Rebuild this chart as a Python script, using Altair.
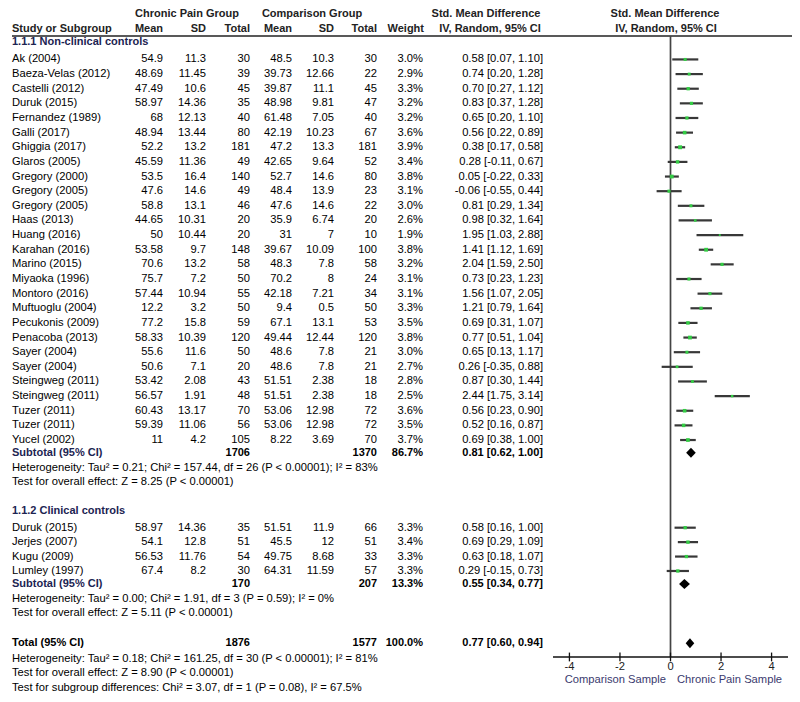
import altair as alt
import pandas as pd

# ---------------- data ----------------
studies1 = ["Ak (2004)", "Baeza-Velas (2012)", "Castelli (2012)", "Duruk (2015)", "Fernandez (1989)",
            "Galli (2017)", "Ghiggia (2017)", "Glaros (2005)", "Gregory (2000)", "Gregory (2005)",
            "Gregory (2005)", "Haas (2013)", "Huang (2016)", "Karahan (2016)", "Marino (2015)",
            "Miyaoka (1996)", "Montoro (2016)", "Muftuoglu (2004)", "Pecukonis (2009)", "Penacoba (2013)",
            "Sayer (2004)", "Sayer (2004)", "Steingweg (2011)", "Steingweg (2011)", "Tuzer (2011)",
            "Tuzer (2011)", "Yucel (2002)"]
cp_mean1 = [54.9, 48.69, 47.49, 58.97, 68, 48.94, 52.2, 45.59, 53.5, 47.6, 58.8, 44.65, 50, 53.58, 70.6,
            75.7, 57.44, 12.2, 77.2, 58.33, 55.6, 50.6, 53.42, 56.57, 60.43, 59.39, 11]
cp_sd1 = [11.3, 11.45, 10.6, 14.36, 12.13, 13.44, 13.2, 11.36, 16.4, 14.6, 13.1, 10.31, 10.44, 9.7, 13.2,
          7.2, 10.94, 3.2, 15.8, 10.39, 11.6, 7.1, 2.08, 1.91, 13.17, 11.06, 4.2]
cp_n1 = [30, 39, 45, 35, 40, 80, 181, 49, 140, 49, 46, 20, 20, 148, 58, 50, 55, 50, 59, 120, 50, 20, 43,
         48, 70, 56, 105]
cm_mean1 = [48.5, 39.73, 39.87, 48.98, 61.48, 42.19, 47.2, 42.65, 52.7, 48.4, 47.6, 35.9, 31, 39.67, 48.3,
            70.2, 42.18, 9.4, 67.1, 49.44, 48.6, 48.6, 51.51, 51.51, 53.06, 53.06, 8.22]
cm_sd1 = [10.3, 12.66, 11.1, 9.81, 7.05, 10.23, 13.3, 9.64, 14.6, 13.9, 14.6, 6.74, 7, 10.09, 7.8, 8,
          7.21, 0.5, 13.1, 12.44, 7.8, 7.8, 2.38, 2.38, 12.98, 12.98, 3.69]
cm_n1 = [30, 22, 45, 47, 40, 67, 181, 52, 80, 23, 22, 20, 10, 100, 58, 24, 34, 50, 53, 120, 21, 21, 18,
         18, 72, 72, 70]
weight1 = [3.0, 2.9, 3.3, 3.2, 3.2, 3.6, 3.9, 3.4, 3.8, 3.1, 3.0, 2.6, 1.9, 3.8, 3.2, 3.1, 3.1, 3.3, 3.5,
           3.8, 3.0, 2.7, 2.8, 2.5, 3.6, 3.5, 3.7]
smd1 = [0.58, 0.74, 0.70, 0.83, 0.65, 0.56, 0.38, 0.28, 0.05, -0.06, 0.81, 0.98, 1.95, 1.41, 2.04, 0.73,
        1.56, 1.21, 0.69, 0.77, 0.65, 0.26, 0.87, 2.44, 0.56, 0.52, 0.69]
lo1 = [0.07, 0.20, 0.27, 0.37, 0.20, 0.22, 0.17, -0.11, -0.22, -0.55, 0.29, 0.32, 1.03, 1.12, 1.59, 0.23,
       1.07, 0.79, 0.31, 0.51, 0.13, -0.35, 0.30, 1.75, 0.23, 0.16, 0.38]
hi1 = [1.10, 1.28, 1.12, 1.28, 1.10, 0.89, 0.58, 0.67, 0.33, 0.44, 1.34, 1.64, 2.88, 1.69, 2.50, 1.23,
       2.05, 1.64, 1.07, 1.04, 1.17, 0.88, 1.44, 3.14, 0.90, 0.87, 1.00]

studies2 = ["Duruk (2015)", "Jerjes (2007)", "Kugu (2009)", "Lumley (1997)"]
cp_mean2 = [58.97, 54.1, 56.53, 67.4]
cp_sd2 = [14.36, 12.8, 11.76, 8.2]
cp_n2 = [35, 51, 54, 30]
cm_mean2 = [51.51, 45.5, 49.75, 64.31]
cm_sd2 = [11.9, 12, 8.68, 11.59]
cm_n2 = [66, 51, 33, 57]
weight2 = [3.3, 3.4, 3.3, 3.3]
smd2 = [0.58, 0.69, 0.63, 0.29]
lo2 = [0.16, 0.29, 0.18, -0.15]
hi2 = [1.00, 1.09, 1.07, 0.73]

# subtotal / total: [n chronic, n comparison, weight, smd, lo, hi]
subtotal1 = [1706, 1370, 86.7, 0.81, 0.62, 1.00]
subtotal2 = [170, 207, 13.3, 0.55, 0.34, 0.77]
total_all = [1876, 1577, 100.0, 0.77, 0.60, 0.94]

section1 = "1.1.1 Non-clinical controls"
section2 = "1.1.2 Clinical controls"
het1 = "Heterogeneity: Tau\u00b2 = 0.21; Chi\u00b2 = 157.44, df = 26 (P < 0.00001); I\u00b2 = 83%"
test1 = "Test for overall effect: Z = 8.25 (P < 0.00001)"
het2 = "Heterogeneity: Tau\u00b2 = 0.00; Chi\u00b2 = 1.91, df = 3 (P = 0.59); I\u00b2 = 0%"
test2 = "Test for overall effect: Z = 5.11 (P < 0.00001)"
het_t = "Heterogeneity: Tau\u00b2 = 0.18; Chi\u00b2 = 161.25, df = 30 (P < 0.00001); I\u00b2 = 81%"
test_t = "Test for overall effect: Z = 8.90 (P < 0.00001)"
test_sub = "Test for subgroup differences: Chi\u00b2 = 3.07, df = 1 (P = 0.08), I\u00b2 = 67.5%"

axis_ticks = [-4, -2, 0, 2, 4]
axis_left_label = "Comparison Sample"
axis_right_label = "Chronic Pain Sample"

# ---------------- layout (reference-pixel row positions) ----------------
FONT = "Liberation Sans"
COLX = dict(name=12, m1=163, s1=206, n1=250, m2=292, s2=334, n2=377, w=423, ci=543)
y_study1 = [52.5 + i * 14.98 for i in range(len(studies1))]
y_sub1, y_het1, y_test1 = 455, 470.7, 485
y_sec1, y_sec2 = 35, 515
y_study2 = [531.7 + i * 14.77 for i in range(len(studies2))]
y_sub2, y_het2, y_test2 = 589.3, 604.3, 619.3
y_tot, y_het_t, y_test_t, y_test_sub = 650, 666, 680.7, 695.7
y_axis, y_ticklab, y_axtitle = 664, 674, 688
y_rule = 28.5
NAVY = "#1c2452"

def fmt(v):
    return f"{v:g}"

texts = []

def add(text, x, y, align="left", bold=False, color="#000000"):
    texts.append(dict(text=text, tx=x, y=y, align=align, bold=bold, color=color))

# header
HC = "#222222"
add("Chronic Pain Group", 187, 6, "center", True, HC)
add("Comparison Group", 312, 6, "center", True, HC)
add("Std. Mean Difference", 486, 6, "center", True, HC)
add("Std. Mean Difference", 665, 6, "center", True, HC)
add("Study or Subgroup", 12, 21, "left", True, HC)
for col, lab in [("m1", "Mean"), ("s1", "SD"), ("n1", "Total"), ("m2", "Mean"), ("s2", "SD"), ("n2", "Total")]:
    add(lab, COLX[col], 21, "right", True, HC)
add("Weight", 424, 21, "right", True, HC)
add("IV, Random, 95% CI", 490, 21, "center", True, HC)
add("IV, Random, 95% CI", 666, 21, "center", True, HC)

forest_rows = []

def add_studies(names, m1, s1, n1, m2, s2, n2, w, smd, lo, hi, ys):
    for i, nm in enumerate(names):
        y = ys[i]
        add(nm, COLX["name"], y)
        add(fmt(m1[i]), COLX["m1"], y, "right")
        add(fmt(s1[i]), COLX["s1"], y, "right")
        add(str(n1[i]), COLX["n1"], y, "right")
        add(fmt(m2[i]), COLX["m2"], y, "right")
        add(fmt(s2[i]), COLX["s2"], y, "right")
        add(str(n2[i]), COLX["n2"], y, "right")
        add(f"{w[i]:.1f}%", COLX["w"], y, "right")
        add(f"{smd[i]:.2f} [{lo[i]:.2f}, {hi[i]:.2f}]", COLX["ci"], y, "right")
        forest_rows.append(dict(smd=smd[i], lo=lo[i], hi=hi[i], w=w[i], y=y))

diamonds = []

def add_summary(label, vals, y, gid, label_color):
    add(label, COLX["name"], y, "left", True, label_color)
    add(str(vals[0]), COLX["n1"], y, "right", True)
    add(str(vals[1]), COLX["n2"], y, "right", True)
    add(f"{vals[2]:.1f}%", COLX["w"], y, "right", True)
    add(f"{vals[3]:.2f} [{vals[4]:.2f}, {vals[5]:.2f}]", COLX["ci"], y, "right", True)
    h = 5.2
    diamonds.extend([
        dict(g=gid, dx=vals[4], ya=y, yb=y),
        dict(g=gid, dx=vals[3], ya=y - h, yb=y + h),
        dict(g=gid, dx=vals[5], ya=y, yb=y),
    ])

add(section1, 12, y_sec1, "left", True, NAVY)
add_studies(studies1, cp_mean1, cp_sd1, cp_n1, cm_mean1, cm_sd1, cm_n1, weight1, smd1, lo1, hi1, y_study1)
add_summary("Subtotal (95% CI)", subtotal1, y_sub1, "s1", NAVY)
add(het1, 12, y_het1)
add(test1, 12, y_test1)
add(section2, 12, y_sec2, "left", True, NAVY)
add_studies(studies2, cp_mean2, cp_sd2, cp_n2, cm_mean2, cm_sd2, cm_n2, weight2, smd2, lo2, hi2, y_study2)
add_summary("Subtotal (95% CI)", subtotal2, y_sub2, "s2", NAVY)
add(het2, 12, y_het2)
add(test2, 12, y_test2)
add_summary("Total (95% CI)", total_all, y_tot, "t", "#000000")
add(het_t, 12, y_het_t)
add(test_t, 12, y_test_t)
add(test_sub, 12, y_test_sub)
add(axis_left_label, 666, y_axtitle, "right", False, "#3a3a6e")
add(axis_right_label, 677, y_axtitle, "left", False, "#3a3a6e")

df_text = pd.DataFrame(texts)
df_forest = pd.DataFrame(forest_rows)
df_diam = pd.DataFrame(diamonds)

# ---------------- scales ----------------
W, H = 784, 686
yscale = alt.Scale(domain=[0, 702], range=[0.14, 686.1], nice=False, zero=False)
pxscale = alt.Scale(domain=[8, 792], range=[0, 784], nice=False, zero=False)
xscale = alt.Scale(domain=[-4.65, 4.65], range=[545, 780], nice=False, zero=False)
Y = lambda f: alt.Y(f, scale=yscale, axis=None)

layers = []

# header rule
layers.append(
    alt.Chart(pd.DataFrame([dict(a=12, b=798, y=y_rule)]))
    .mark_rule(color="#222222", strokeWidth=1.6)
    .encode(x=alt.X("a:Q", scale=pxscale, axis=None), x2="b:Q", y=Y("y:Q"))
)

# zero line
layers.append(
    alt.Chart(pd.DataFrame([dict(v=0, y1=y_rule, y2=y_axis)]))
    .mark_rule(color="#444444", strokeWidth=1.7)
    .encode(x=alt.X("v:Q", scale=xscale, axis=None), y=Y("y1:Q"), y2="y2:Q")
)

# axis line and ticks
layers.append(
    alt.Chart(pd.DataFrame([dict(a=-4.65, b=4.65, y=y_axis)]))
    .mark_rule(color="#111111", strokeWidth=1.6)
    .encode(x=alt.X("a:Q", scale=xscale, axis=None), x2="b:Q", y=Y("y:Q"))
)
df_ticks = pd.DataFrame(dict(t=axis_ticks, lab=[str(t) for t in axis_ticks],
                             y1=[y_axis - 4.5] * len(axis_ticks), y2=[y_axis + 4.5] * len(axis_ticks),
                             yl=[y_ticklab] * len(axis_ticks)))
layers.append(
    alt.Chart(df_ticks).mark_rule(color="#111111", strokeWidth=1.3)
    .encode(x=alt.X("t:Q", scale=xscale, axis=None), y=Y("y1:Q"), y2="y2:Q")
)
layers.append(
    alt.Chart(df_ticks).mark_text(font=FONT, fontSize=11.2, baseline="middle", align="center", color="#222222")
    .encode(x=alt.X("t:Q", scale=xscale, axis=None), y=Y("yl:Q"), text="lab:N")
)

# whiskers
layers.append(
    alt.Chart(df_forest).mark_rule(color="#383838", strokeWidth=2.2)
    .encode(x=alt.X("lo:Q", scale=xscale, axis=None), x2="hi:Q", y=Y("y:Q"))
)
# study squares
layers.append(
    alt.Chart(df_forest).mark_square(color="#33cc44", opacity=1)
    .encode(x=alt.X("smd:Q", scale=xscale, axis=None), y=Y("y:Q"),
            size=alt.Size("w:Q", scale=alt.Scale(type="pow", exponent=2, domain=[0, 4], range=[0, 16]),
                          legend=None))
)
# diamonds
layers.append(
    alt.Chart(df_diam).mark_area(color="#000000", opacity=1)
    .encode(x=alt.X("dx:Q", scale=xscale, axis=None), y=Y("ya:Q"), y2="yb:Q", detail="g:N")
)

# text layers
for (align, bold, color), sub in df_text.groupby(["align", "bold", "color"]):
    layers.append(
        alt.Chart(sub).mark_text(font=FONT, fontSize=11 if bold else 11.2, baseline="middle", align=align,
                                 fontWeight="bold" if bold else "normal", color=color)
        .encode(x=alt.X("tx:Q", scale=pxscale, axis=None), y=Y("y:Q"), text="text:N")
    )

chart = (
    alt.layer(*layers)
    .resolve_scale(x="independent")
    .properties(width=W, height=H, autosize="none", padding=0, background="white")
    .configure_view(stroke=None)
)

chart.save("out.html", embed_options={"renderer": "svg", "actions": False})
